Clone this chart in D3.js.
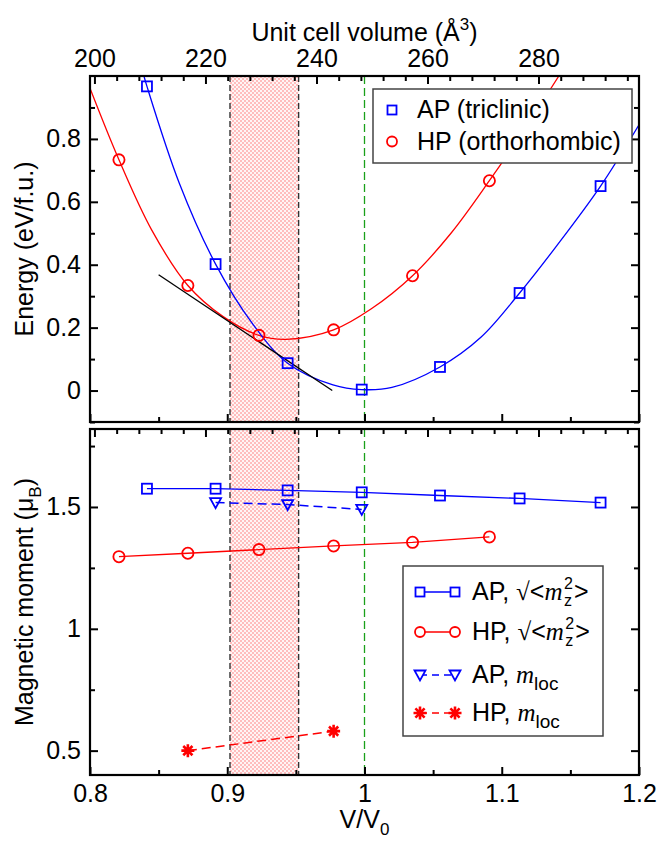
<!DOCTYPE html>
<html>
<head>
<meta charset="utf-8">
<script src="https://cdn.jsdelivr.net/npm/d3@7"></script>
<style>
  body { margin: 0; background: #fff; }
  text { font-family: "Liberation Sans", Arial, sans-serif; }
</style>
</head>
<body>
<div id="chart"></div>
<script>
// ---- data ----
// top panel: energy vs V/V0
const apV = [0.8415, 0.8915, 0.944, 0.998, 1.055, 1.113, 1.172];
const apE = [0.967, 0.402, 0.087, 0.003, 0.075, 0.31, 0.65];
const hpV = [0.8211, 0.8713, 0.9231, 0.9775, 1.035, 1.091];
const hpE = [0.7335, 0.334, 0.1755, 0.193, 0.365, 0.667];

// fitted curves
const apFitV = [0.8393, 0.8415, 0.865, 0.8915, 0.918, 0.944, 0.977, 0.998, 1.02, 1.055, 1.085, 1.113, 1.14, 1.172, 1.2];
const apFitE = [1.0, 0.967, 0.66, 0.402, 0.215, 0.087, 0.018, 0.003, 0.01, 0.075, 0.17, 0.31, 0.46, 0.65, 0.845];
const hpFitV = [0.8, 0.8211, 0.845, 0.8713, 0.897, 0.9231, 0.943, 0.9775, 1.005, 1.035, 1.063, 1.091, 1.118, 1.1416];
const hpFitE = [0.961, 0.7335, 0.51, 0.334, 0.235, 0.1755, 0.163, 0.193, 0.26, 0.365, 0.5, 0.667, 0.84, 1.0];

// common tangent
const tanV = [0.85, 0.9765];
const tanE = [0.368, 0.0];

// bottom panel: magnetic moments
const apMz = [1.575, 1.575, 1.568, 1.56, 1.547, 1.535, 1.518];
const hpMz = [1.296, 1.31, 1.325, 1.34, 1.355, 1.377];
const apLocV = [0.8915, 0.944, 0.998];
const apLoc = [1.518, 1.51, 1.49];
const hpLocV = [0.8713, 0.9775];
const hpLoc = [0.5, 0.58];

// coexistence region and reference volume
const shadeV = [0.902, 0.952];
const refV = 1.0;

// axes
const xTicks = [0.8, 0.9, 1.0, 1.1, 1.2];
const xMinor = [0.85, 0.95, 1.05, 1.15];
const volTicks = [200, 220, 240, 260, 280];
const volMinor = [204, 208, 212, 216, 224, 228, 232, 236, 244, 248, 252, 256, 264, 268, 272, 276, 284, 288, 292, 296];
const eTicks = [0, 0.2, 0.4, 0.6, 0.8];
const eMinor = [-0.1, 0.1, 0.3, 0.5, 0.7, 0.9];
const mTicks = [0.5, 1, 1.5];
const mMinor = [0.75, 1.25, 1.75];

// ---- layout ----
const W = 659, H = 844;
const L = 90, R = 639, T1 = 76, B1 = 422, T2 = 429, B2 = 775;
const FS = 25;

const svg = d3.select("#chart").append("svg")
    .attr("width", W).attr("height", H);

const x = d3.scaleLinear().domain([0.8, 1.2]).range([L, R]);
const xv = d3.scaleLinear().domain([199.2, 298.1]).range([L, R]);
const yE = d3.scaleLinear().domain([-0.1, 1.0]).range([B1, T1]);
const yM = d3.scaleLinear().domain([0.4, 1.82]).range([B2, T2]);

const defs = svg.append("defs");
const pat = defs.append("pattern").attr("id", "dots")
    .attr("patternUnits", "userSpaceOnUse")
    .attr("width", 4).attr("height", 4);
pat.append("rect").attr("width", 4).attr("height", 4).attr("fill", "#fff3f3");
pat.append("rect").attr("x", 0.4).attr("y", 0.4).attr("width", 1.2).attr("height", 1.2).attr("fill", "#ff3030");
pat.append("rect").attr("x", 2.4).attr("y", 2.4).attr("width", 1.2).attr("height", 1.2).attr("fill", "#ff3030");

defs.append("clipPath").attr("id", "clip1").append("rect")
    .attr("x", L).attr("y", T1).attr("width", R - L).attr("height", B1 - T1);
defs.append("clipPath").attr("id", "clip2").append("rect")
    .attr("x", L).attr("y", T2).attr("width", R - L).attr("height", B2 - T2);

// shaded region + reference line in both panels
[[T1, B1], [T2, B2]].forEach(([t, b]) => {
    svg.append("rect")
        .attr("x", x(shadeV[0])).attr("y", t)
        .attr("width", x(shadeV[1]) - x(shadeV[0])).attr("height", b - t)
        .attr("fill", "url(#dots)").attr("opacity", 0.8);
    shadeV.forEach(v => {
        svg.append("line")
            .attr("x1", x(v)).attr("x2", x(v)).attr("y1", t).attr("y2", b)
            .attr("stroke", "#333").attr("stroke-width", 1.4)
            .attr("stroke-dasharray", "6,3");
    });
    svg.append("line")
        .attr("x1", x(refV)).attr("x2", x(refV)).attr("y1", t).attr("y2", b)
        .attr("stroke", "#1aa01a").attr("stroke-width", 1.3)
        .attr("stroke-dasharray", "8,4");
});

// ---- top panel ----
const topG = svg.append("g").attr("clip-path", "url(#clip1)");
const lineE = d3.line().x(d => x(d[0])).y(d => yE(d[1])).curve(d3.curveCatmullRom.alpha(0.5));

topG.append("path").datum(d3.zip(hpFitV, hpFitE))
    .attr("d", lineE).attr("fill", "none").attr("stroke", "#ff0000").attr("stroke-width", 1.3);
topG.append("path").datum(d3.zip(apFitV, apFitE))
    .attr("d", lineE).attr("fill", "none").attr("stroke", "#0000ff").attr("stroke-width", 1.3);
topG.append("path").datum(d3.zip(tanV, tanE))
    .attr("d", d3.line().x(d => x(d[0])).y(d => yE(d[1])))
    .attr("fill", "none").attr("stroke", "#000").attr("stroke-width", 1.3);

const SQ = 10;
function squares(g, xs, ys, yScale) {
    g.selectAll(null).data(d3.zip(xs, ys)).enter().append("rect")
        .attr("x", d => x(d[0]) - SQ / 2).attr("y", d => yScale(d[1]) - SQ / 2)
        .attr("width", SQ).attr("height", SQ)
        .attr("fill", "none").attr("stroke", "#0000ff").attr("stroke-width", 1.8);
}
function circles(g, xs, ys, yScale) {
    g.selectAll(null).data(d3.zip(xs, ys)).enter().append("circle")
        .attr("cx", d => x(d[0])).attr("cy", d => yScale(d[1])).attr("r", 5.6)
        .attr("fill", "none").attr("stroke", "#ff0000").attr("stroke-width", 1.8);
}
const triPath = "M-5.5,-4.5L5.5,-4.5L0,5.5Z";
const starPath = "M-6.5,0L6.5,0M0,-6.5L0,6.5M-4.6,-4.6L4.6,4.6M-4.6,4.6L4.6,-4.6";

squares(topG, apV, apE, yE);
circles(topG, hpV, hpE, yE);

// ---- bottom panel ----
const botG = svg.append("g").attr("clip-path", "url(#clip2)");
const lineM = d3.line().x(d => x(d[0])).y(d => yM(d[1]));

botG.append("path").datum(d3.zip(apV, apMz)).attr("d", lineM)
    .attr("fill", "none").attr("stroke", "#0000ff").attr("stroke-width", 1.3);
botG.append("path").datum(d3.zip(hpV, hpMz)).attr("d", lineM)
    .attr("fill", "none").attr("stroke", "#ff0000").attr("stroke-width", 1.3);
botG.append("path").datum(d3.zip(apLocV, apLoc)).attr("d", lineM)
    .attr("fill", "none").attr("stroke", "#0000ff").attr("stroke-width", 1.5)
    .attr("stroke-dasharray", "9,5");
botG.append("path").datum(d3.zip(hpLocV, hpLoc)).attr("d", lineM)
    .attr("fill", "none").attr("stroke", "#ff0000").attr("stroke-width", 1.5)
    .attr("stroke-dasharray", "9,5");

squares(botG, apV, apMz, yM);
circles(botG, hpV, hpMz, yM);
botG.selectAll(null).data(d3.zip(apLocV, apLoc)).enter().append("path")
    .attr("d", triPath).attr("transform", d => `translate(${x(d[0])},${yM(d[1])})`)
    .attr("fill", "none").attr("stroke", "#0000ff").attr("stroke-width", 1.8);
botG.selectAll(null).data(d3.zip(hpLocV, hpLoc)).enter().append("path")
    .attr("d", starPath).attr("transform", d => `translate(${x(d[0])},${yM(d[1])})`)
    .attr("fill", "none").attr("stroke", "#ff0000").attr("stroke-width", 2.6);

// ---- axes ----
function axisGroup(axis, tx, ty) {
    const g = svg.append("g").attr("transform", `translate(${tx},${ty})`).call(axis);
    g.select(".domain").remove();
    g.selectAll("line").attr("stroke", "#000").attr("stroke-width", 2);
    g.selectAll("text").attr("font-size", FS).attr("font-family", "Liberation Sans, Arial, sans-serif").attr("fill", "#000");
    return g;
}
const MJ = -8, MN = -5;
// top panel: volume axis on top, V/V0 ticks below
axisGroup(d3.axisTop(xv).tickValues(volTicks).tickSize(MJ).tickPadding(9).tickFormat(d3.format("d")), 0, T1);
axisGroup(d3.axisTop(xv).tickValues(volMinor).tickSize(MN).tickFormat(""), 0, T1);
axisGroup(d3.axisBottom(x).tickValues(xTicks).tickSize(MJ).tickFormat(""), 0, B1);
axisGroup(d3.axisBottom(x).tickValues(xMinor).tickSize(MN).tickFormat(""), 0, B1);
axisGroup(d3.axisLeft(yE).tickValues(eTicks).tickSize(MJ).tickPadding(9).tickFormat(d => d === 0 ? "0" : d3.format(".1f")(d)), L, 0);
axisGroup(d3.axisLeft(yE).tickValues(eMinor).tickSize(MN).tickFormat(""), L, 0);
axisGroup(d3.axisRight(yE).tickValues(eTicks).tickSize(MJ).tickFormat(""), R, 0);
axisGroup(d3.axisRight(yE).tickValues(eMinor).tickSize(MN).tickFormat(""), R, 0);
// bottom panel: volume ticks on top, V/V0 axis at bottom
axisGroup(d3.axisTop(xv).tickValues(volTicks).tickSize(MJ).tickFormat(""), 0, T2);
axisGroup(d3.axisTop(xv).tickValues(volMinor).tickSize(MN).tickFormat(""), 0, T2);
axisGroup(d3.axisBottom(x).tickValues(xTicks).tickSize(MJ).tickPadding(9).tickFormat(d => d === 1 ? "1" : d3.format(".1f")(d)), 0, B2);
axisGroup(d3.axisBottom(x).tickValues(xMinor).tickSize(MN).tickFormat(""), 0, B2);
axisGroup(d3.axisLeft(yM).tickValues(mTicks).tickSize(MJ).tickPadding(9).tickFormat(d => d === 1 ? "1" : d3.format(".1f")(d)), L, 0);
axisGroup(d3.axisLeft(yM).tickValues(mMinor).tickSize(MN).tickFormat(""), L, 0);
axisGroup(d3.axisRight(yM).tickValues(mTicks).tickSize(MJ).tickFormat(""), R, 0);
axisGroup(d3.axisRight(yM).tickValues(mMinor).tickSize(MN).tickFormat(""), R, 0);

// frames
[[T1, B1], [T2, B2]].forEach(([t, b]) => {
    svg.append("rect").attr("x", L).attr("y", t).attr("width", R - L).attr("height", b - t)
        .attr("fill", "none").attr("stroke", "#000").attr("stroke-width", 2.2);
});

// ---- axis titles ----
const title = svg.append("text").attr("x", (L + R) / 2).attr("y", 41)
    .attr("text-anchor", "middle").attr("font-size", FS);
title.append("tspan").text("Unit cell volume (Å");
title.append("tspan").attr("dy", -11).attr("font-size", 17).text("3");
title.append("tspan").attr("dy", 11).text(")");

const xl = svg.append("text").attr("x", (L + R) / 2).attr("y", 828)
    .attr("text-anchor", "middle").attr("font-size", FS);
xl.append("tspan").text("V/V");
xl.append("tspan").attr("dy", 7).attr("font-size", 17).text("0");

svg.append("text").attr("transform", `translate(33,${(T1 + B1) / 2}) rotate(-90)`)
    .attr("text-anchor", "middle").attr("font-size", FS).text("Energy (eV/f.u.)");
const yl = svg.append("text").attr("transform", `translate(33,${(T2 + B2) / 2}) rotate(-90)`)
    .attr("text-anchor", "middle").attr("font-size", FS);
yl.append("tspan").text("Magnetic moment (μ");
yl.append("tspan").attr("dy", 8).attr("font-size", 17).text("B");
yl.append("tspan").attr("dy", -8).text(")");

// ---- legend (top) ----
const lg1 = svg.append("g");
lg1.append("rect").attr("x", 373).attr("y", 89).attr("width", 259).attr("height", 74)
    .attr("fill", "#fff").attr("stroke", "#444").attr("stroke-width", 1.5);
lg1.append("rect").attr("x", 392 - 4.5).attr("y", 110 - 4.5).attr("width", 9).attr("height", 9)
    .attr("fill", "none").attr("stroke", "#0000ff").attr("stroke-width", 1.8);
lg1.append("circle").attr("cx", 392).attr("cy", 141.5).attr("r", 5)
    .attr("fill", "none").attr("stroke", "#ff0000").attr("stroke-width", 1.8);
lg1.append("text").attr("x", 417).attr("y", 118).attr("font-size", FS).text("AP (triclinic)");
lg1.append("text").attr("x", 417).attr("y", 150).attr("font-size", FS).text("HP (orthorhombic)");

// ---- legend (bottom) ----
const lg2 = svg.append("g");
lg2.append("rect").attr("x", 403).attr("y", 566).attr("width", 200).attr("height", 170)
    .attr("fill", "#fff").attr("stroke", "#444").attr("stroke-width", 1.5);
const rows = [
    { y: 592, color: "#0000ff", dash: null, mark: "sq", lab: "AP", kind: "mz" },
    { y: 632, color: "#ff0000", dash: null, mark: "ci", lab: "HP", kind: "mz" },
    { y: 675, color: "#0000ff", dash: "7,5", mark: "tri", lab: "AP", kind: "loc" },
    { y: 713, color: "#ff0000", dash: "7,5", mark: "star", lab: "HP", kind: "loc" }
];
rows.forEach(r => {
    lg2.append("line").attr("x1", 420).attr("x2", 455).attr("y1", r.y).attr("y2", r.y)
        .attr("stroke", r.color).attr("stroke-width", 1.4).attr("stroke-dasharray", r.dash);
    [420, 455].forEach(mx => {
        if (r.mark === "sq") {
            lg2.append("rect").attr("x", mx - 4.5).attr("y", r.y - 4.5).attr("width", 9).attr("height", 9)
                .attr("fill", "#fff").attr("stroke", r.color).attr("stroke-width", 1.8);
        } else if (r.mark === "ci") {
            lg2.append("circle").attr("cx", mx).attr("cy", r.y).attr("r", 5)
                .attr("fill", "#fff").attr("stroke", r.color).attr("stroke-width", 1.8);
        } else if (r.mark === "tri") {
            lg2.append("path").attr("d", triPath).attr("transform", `translate(${mx},${r.y})`)
                .attr("fill", "#fff").attr("stroke", r.color).attr("stroke-width", 1.8);
        } else {
            lg2.append("path").attr("d", starPath).attr("transform", `translate(${mx},${r.y})`)
                .attr("fill", "none").attr("stroke", r.color).attr("stroke-width", 2.6);
        }
    });
    const base = r.y + 8;
    const t = lg2.append("text").attr("x", 472).attr("y", base).attr("font-size", FS);
    t.append("tspan").text(r.lab + ", ");
    if (r.kind === "mz") {
        t.append("tspan").attr("font-family", "Liberation Serif, serif").text("√");
        t.append("tspan").text("<");
        t.append("tspan").attr("font-family", "Liberation Serif, serif").attr("font-style", "italic").text("m");
        // stacked super/subscript placed after the measured text
        const end = 472 + t.node().getComputedTextLength() + 1.5;
        lg2.append("text").attr("x", end).attr("y", base - 11).attr("font-size", 16).text("2");
        lg2.append("text").attr("x", end).attr("y", base + 6).attr("font-size", 16).text("z");
        lg2.append("text").attr("x", end + 10).attr("y", base).attr("font-size", FS).text(">");
    } else {
        t.append("tspan").attr("font-family", "Liberation Serif, serif").attr("font-style", "italic").text("m");
        t.append("tspan").attr("font-size", 19).attr("dy", 7).text("loc");
    }
});
</script>
</body>
</html>
